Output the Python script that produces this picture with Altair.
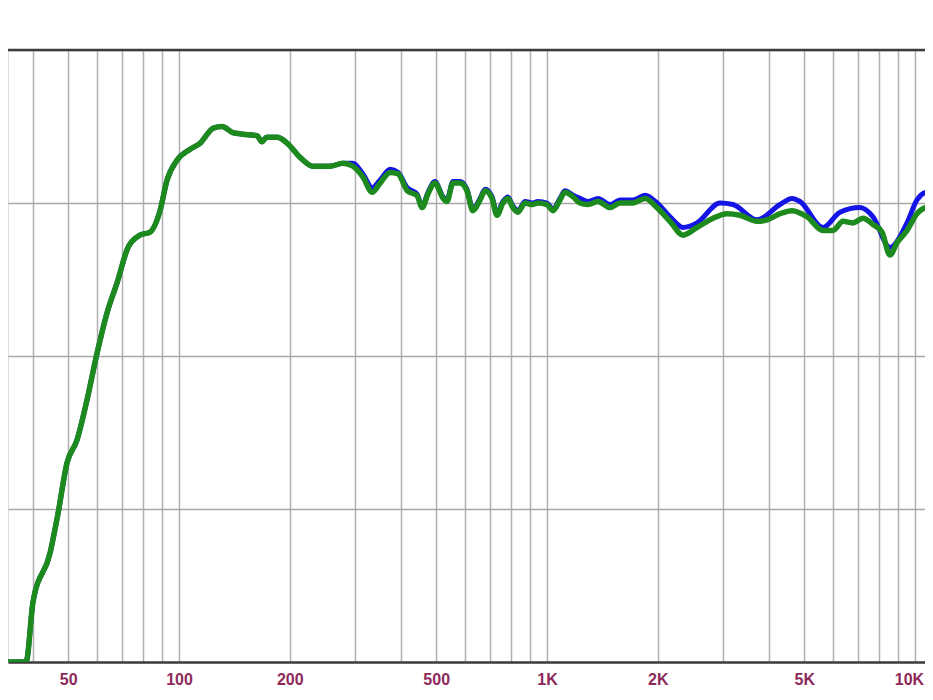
import altair as alt
import pandas as pd

# Green trace (frequency in Hz, level in dB)
green_freq = [32.6, 38.4, 40.1, 44.6, 46.9, 49.6, 52.8, 56.2, 59.9, 63.7, 67.9, 72.7, 78.3, 83.4,
              88.8, 92.8, 98.8, 107, 114, 124, 131, 140, 149, 163, 168, 173, 185, 197, 213, 231,
              257, 279, 297, 316, 335, 352, 375, 394, 417, 443, 458, 475, 496, 522, 535, 555,
              580, 606, 629, 658, 679, 709, 731, 759, 783, 808, 834, 872, 911, 945, 1000, 1038,
              1085, 1119, 1177, 1229, 1292, 1376, 1484, 1579, 1713, 1847, 1991, 2159, 2342, 2556,
              2826, 3084, 3346, 3722, 3961, 4297, 4633, 5088, 5623, 5987, 6373, 6785, 7224, 7690,
              8136, 8551, 8935, 9513, 10125, 10780, 11190]
green_db = [50.0, 50.0, 53.9, 57.1, 59.7, 63.0, 64.5, 67.1, 70.2, 72.8, 74.8, 77.1, 77.9, 78.1,
            79.5, 81.5, 82.8, 83.5, 83.9, 84.9, 85.0, 84.6, 84.5, 84.4, 84.0, 84.3, 84.3, 83.9, 83.0, 82.4,
            82.4, 82.6, 82.4, 81.7, 80.7, 81.3, 82.0, 81.9, 80.8, 80.5, 79.7, 80.6, 81.3, 80.3, 80.1, 81.3,
            81.3, 80.8, 79.5, 80.2, 80.8, 80.3, 79.2, 80.0, 80.3, 79.7, 79.4, 80.0, 79.9, 80.0, 79.9, 79.5,
            80.2, 80.7, 80.4, 80.0, 79.9, 80.1, 79.7, 80.0, 80.0, 80.3, 79.7, 78.8, 77.9, 78.4,
            79.0, 79.3, 79.2, 78.8, 78.9, 79.3, 79.5, 79.1, 78.2, 78.2, 78.8, 78.7, 79.0, 78.6,
            78.1, 76.6, 77.4, 78.2, 79.3, 79.7, 79.7]

# Blue trace (mostly hidden under the green one)
blue_freq = [32.6, 38.4, 40.1, 44.6, 46.9, 49.6, 52.8, 56.2, 59.9, 63.7, 67.9, 72.7, 78.3, 83.4,
             88.8, 92.8, 98.8, 107, 114, 124, 131, 140, 149, 163, 168, 173, 185, 197, 213, 231,
             257, 279, 297, 316, 335, 352, 375, 394, 417, 443, 458, 475, 496, 522, 535, 555,
             580, 606, 629, 658, 679, 709, 731, 759, 783, 808, 834, 872, 911, 945, 1000, 1038,
             1085, 1119, 1177, 1229, 1292, 1376, 1484, 1579, 1713, 1847, 1991, 2159, 2342, 2556,
             2952, 3202, 3722, 4297, 4633, 4870, 5623, 6254, 7089, 7690, 8551, 9513, 10125, 10780, 11190]
blue_db = [50.0, 50.0, 53.9, 57.1, 59.7, 63.0, 64.5, 67.1, 70.2, 72.8, 74.8, 77.1, 77.9, 78.1,
           79.5, 81.5, 82.8, 83.5, 83.9, 84.9, 85.0, 84.6, 84.5, 84.4, 84.0, 84.3, 84.3, 83.9, 83.0, 82.4,
           82.4, 82.6, 82.6, 81.9, 81.0, 81.5, 82.2, 82.0, 81.0, 80.6, 79.8, 80.7, 81.4, 80.4, 80.2, 81.4,
           81.4, 80.9, 79.6, 80.3, 80.9, 80.4, 79.3, 80.1, 80.4, 79.8, 79.5, 80.1, 80.0, 80.1, 80.0, 79.6,
           80.3, 80.8, 80.5, 80.3, 80.1, 80.3, 79.9, 80.2, 80.2, 80.5, 80.0, 79.1, 78.4, 78.7,
           80.0, 79.9, 78.9, 79.9, 80.3, 80.1, 78.4, 79.4, 79.7, 79.1, 77.1, 78.7, 80.2, 80.7, 80.6]

grid_freqs = [40, 50, 60, 70, 80, 90, 100, 200, 300, 400, 500, 600, 700, 800, 900,
              1000, 2000, 3000, 4000, 5000, 6000, 7000, 8000, 9000, 10000]
labelled_freqs = [50, 100, 200, 500, 1000, 2000, 5000, 10000]
level_grid = [50, 60, 70, 80, 90]

green = pd.DataFrame({"f": green_freq, "db": green_db})
blue = pd.DataFrame({"f": blue_freq, "db": blue_db})

xscale = alt.Scale(type="log", domain=[34.3, 10647], nice=False)
yscale = alt.Scale(domain=[50, 90], nice=False, zero=False)

label_expr = ("indexof([50,100,200,500], datum.value) >= 0 ? '' + datum.value : "
              "indexof([1000,2000,5000,10000], datum.value) >= 0 ? (datum.value/1000) + 'K' : ''")

xaxis = alt.Axis(values=grid_freqs, labelExpr=label_expr, title=None, tickSize=0,
                 labelPadding=9, labelFont="Liberation Sans", labelFontSize=16,
                 labelFontWeight="bold", labelColor="#8e2a5a", labelOverlap=False,
                 labelFlush=False, labelBound=False,
                 labelOffset={"condition": {"test": "datum.value == 10000", "value": -6}, "value": 0},
                 grid=True, gridColor="#b0b0b0",
                 gridWidth=1.5, domainColor="#3c3c3c", domainWidth=2.5)
yaxis = alt.Axis(values=level_grid, title=None, labels=False, ticks=False, domain=False,
                 grid=True, gridColor="#a8a8a8", gridWidth=1.5)

blue_line = alt.Chart(blue).mark_line(color="#1414e6", strokeWidth=5, clip=True,
                                      interpolate="monotone",
                                      strokeJoin="round", strokeCap="round").encode(
    x=alt.X("f:Q", scale=xscale, axis=xaxis),
    y=alt.Y("db:Q", scale=yscale, axis=yaxis),
)
green_line = alt.Chart(green).mark_line(color="#1c8a1c", strokeWidth=5.5, clip=True,
                                        interpolate="monotone",
                                        strokeJoin="round", strokeCap="round").encode(
    x=alt.X("f:Q", scale=xscale),
    y=alt.Y("db:Q", scale=yscale),
)
top_rule = alt.Chart(pd.DataFrame({"db": [max(level_grid)]})).mark_rule(
    color="#3c3c3c", strokeWidth=2.5).encode(y=alt.Y("db:Q", scale=yscale))

chart = alt.layer(blue_line, green_line, top_rule).properties(
    width=917, height=612,
    autosize=alt.AutoSizeParams(type="none"),
    padding={"top": 42, "left": 0, "right": 0, "bottom": 26},
).configure_view(stroke="transparent", strokeWidth=0).configure(background="white")

chart.save("out.html", embed_options={"renderer": "svg", "actions": False})
